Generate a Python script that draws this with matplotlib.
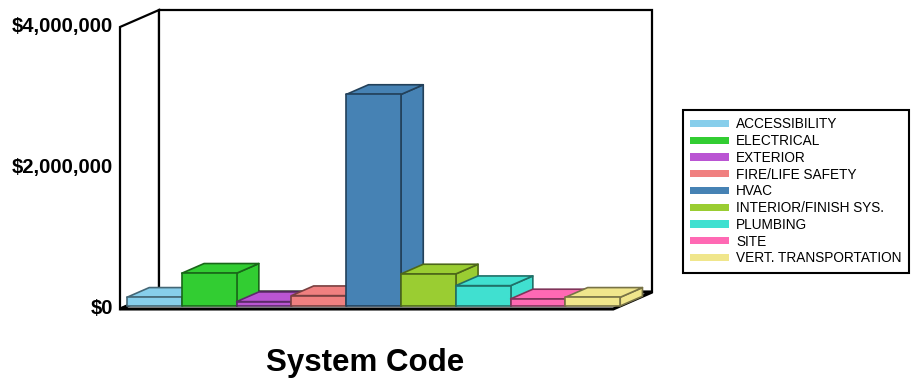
import matplotlib
matplotlib.use('Agg')
import matplotlib.pyplot as plt
from matplotlib.patches import Polygon, Patch
from matplotlib.colors import to_rgb

plt.rcParams['font.family'] = ['Liberation Sans', 'DejaVu Sans']

# datos
categorias = ['ACCESSIBILITY', 'ELECTRICAL', 'EXTERIOR', 'FIRE/LIFE SAFETY', 'HVAC',
              'INTERIOR/FINISH SYS.', 'PLUMBING', 'SITE', 'VERT. TRANSPORTATION']
valores = [123000, 464000, 61000, 146000, 3000000, 454000, 288000, 100000, 123000]
colores = ['#87CEEB', '#32CD32', '#BA55D3', '#F08080', '#4682B4',
           '#9ACD32', '#40E0D0', '#FF69B4', '#F0E68C']
ticks = [0, 2000000, 4000000]
tick_labels = ['$0', '$2,000,000', '$4,000,000']
ymax = 4000000

# escala en pixeles (figura 920x383)
W, H = 920, 383
PX_U = 54.8          # pixeles por categoria
PX_V = 70.5 / 1e6    # pixeles por dolar
X0, Y0 = 120, 309    # origen del plano frontal
DU = 39 / PX_U       # profundidad total en x
DV = 17 / PX_V       # profundidad total en y (dolares)
Z0, Z1 = 0.18, 0.75  # profundidad de las barras


def p(u, v, z):
    return (u + z * DU, v + z * DV)


fig = plt.figure(figsize=(W / 100, H / 100), dpi=100)
ax = fig.add_axes([0, 0, 1, 1])
ax.set_xlim(-X0 / PX_U, (W - X0) / PX_U)
ax.set_ylim(-(H - Y0) / PX_V, Y0 / PX_V)
ax.axis('off')

n = len(categorias)
lw = 1.6

# paredes y piso
ax.add_patch(Polygon([p(0, 0, 0), p(0, ymax, 0), p(0, ymax, 1), p(0, 0, 1)],
                     closed=True, facecolor='white', edgecolor='black', lw=lw, zorder=1))
ax.add_patch(Polygon([p(0, 0, 1), p(0, ymax, 1), p(n, ymax, 1), p(n, 0, 1)],
                     closed=True, facecolor='white', edgecolor='black', lw=lw, zorder=1))
ax.add_patch(Polygon([p(0, 0, 0), p(n, 0, 0), p(n, 0, 1), p(0, 0, 1)],
                     closed=True, facecolor='white', edgecolor='black', lw=lw + 0.6, zorder=2))

# barras 3D (izquierda a derecha)
for i, (v, c) in enumerate(zip(valores, colores)):
    borde = tuple(x * 0.5 for x in to_rgb(c))
    z = 3 + i
    frente = [p(i, 0, Z0), p(i + 1, 0, Z0), p(i + 1, v, Z0), p(i, v, Z0)]
    arriba = [p(i, v, Z0), p(i + 1, v, Z0), p(i + 1, v, Z1), p(i, v, Z1)]
    lado = [p(i + 1, 0, Z0), p(i + 1, 0, Z1), p(i + 1, v, Z1), p(i + 1, v, Z0)]
    for poly in (lado, arriba, frente):
        ax.add_patch(Polygon(poly, closed=True, facecolor=c, edgecolor=borde,
                             lw=1.2, joinstyle='round', zorder=z))

# etiquetas del eje
for t, lab in zip(ticks, tick_labels):
    ax.text(-7 / PX_U, t, lab, ha='right', va='center', fontsize=14.6,
            fontweight='bold', zorder=20)

fig.text(365 / W, 1 - 363 / H, 'System Code', ha='center', va='center',
         fontsize=22.5, fontweight='bold')

handles = [Patch(facecolor=c, edgecolor='none') for c in colores]
leg = fig.legend(handles, categorias, loc='upper left',
                 bbox_to_anchor=(683 / W, 1 - 110 / H), fontsize=9.8,
                 handlelength=2.8, handleheight=0.45, handletextpad=0.55,
                 labelspacing=0.2, borderpad=0.55, borderaxespad=0,
                 fancybox=False, framealpha=1)
leg.get_frame().set_edgecolor('black')
leg.get_frame().set_linewidth(1.5)

fig.savefig('out.png', dpi=100)
